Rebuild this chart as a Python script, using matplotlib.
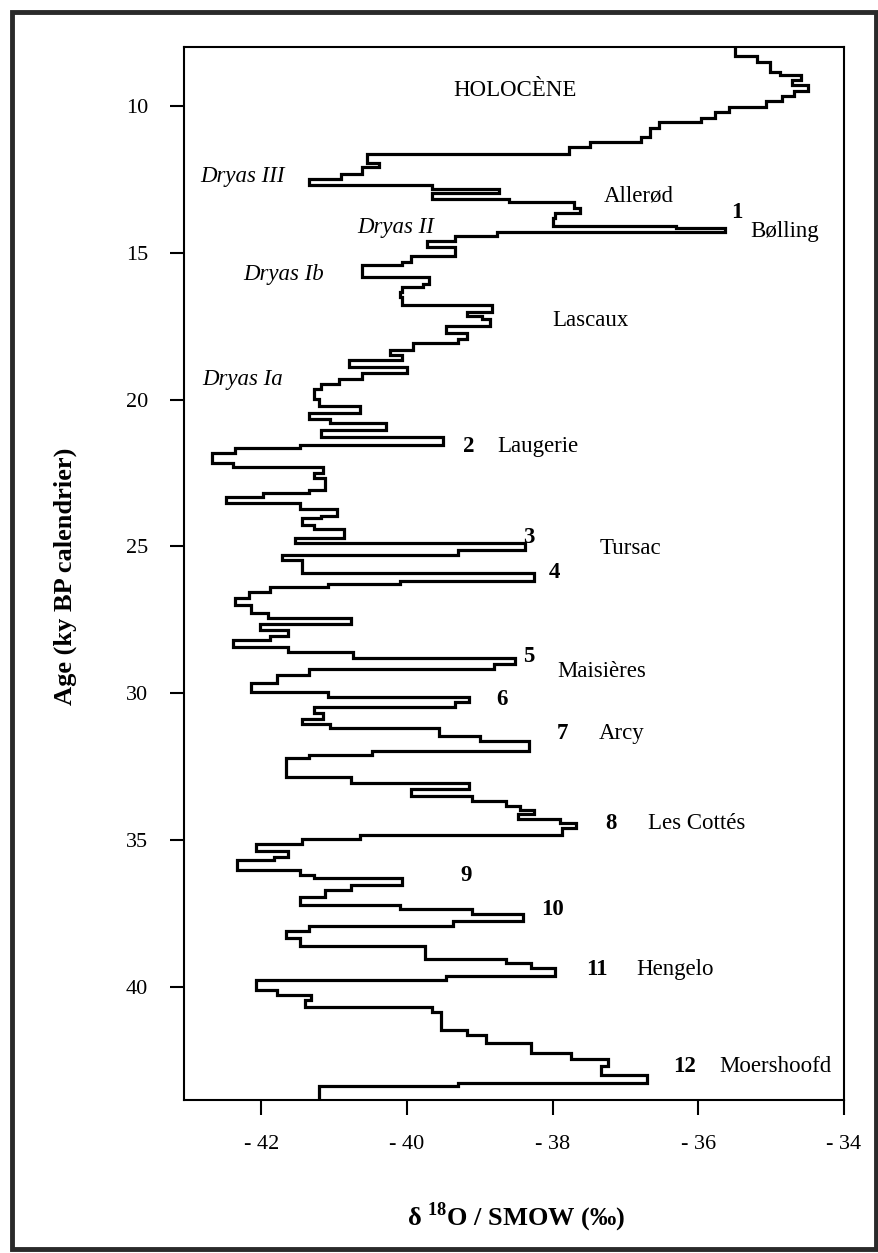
import matplotlib
matplotlib.use("Agg")
import matplotlib.pyplot as plt
from matplotlib.patches import Rectangle

plt.rcParams['font.family'] = ['Liberation Serif', 'DejaVu Serif']
plt.rcParams['mathtext.fontset'] = 'custom'
plt.rcParams['mathtext.rm'] = 'Liberation Serif'
plt.rcParams['mathtext.bf'] = 'Liberation Serif:bold'

# ------------------- DATA ------------------- #
# age boundaries (ky BP) and the d18O value held between two boundaries
age_edges = [8.0, 8.30, 8.49, 8.83, 8.94, 9.10, 9.28, 9.48, 9.66, 9.82,
             10.02, 10.22, 10.40, 10.55, 10.76, 11.04, 11.21, 11.39, 11.64, 11.93,
             12.07, 12.31, 12.48, 12.70, 12.84, 12.95, 13.15, 13.27, 13.49, 13.66,
             13.83, 14.08, 14.17, 14.30, 14.42, 14.60, 14.80, 15.11, 15.30, 15.43,
             15.81, 16.05, 16.15, 16.32, 16.50, 16.78, 17.00, 17.15, 17.27, 17.49,
             17.74, 17.93, 18.08, 18.31, 18.48, 18.65, 18.88, 19.10, 19.30, 19.45,
             19.62, 19.99, 20.20, 20.46, 20.67, 20.80, 21.02, 21.26, 21.54, 21.65,
             21.82, 22.17, 22.28, 22.50, 22.68, 23.07, 23.19, 23.30, 23.53, 23.73,
             23.96, 24.04, 24.27, 24.42, 24.72, 24.89, 25.12, 25.29, 25.46, 25.89,
             26.16, 26.27, 26.38, 26.56, 26.76, 26.99, 27.27, 27.44, 27.64, 27.84,
             28.05, 28.18, 28.41, 28.58, 28.80, 29.00, 29.18, 29.37, 29.65, 29.94,
             30.11, 30.31, 30.47, 30.68, 30.87, 31.04, 31.19, 31.45, 31.64, 31.95,
             32.09, 32.20, 32.86, 33.06, 33.27, 33.50, 33.67, 33.85, 33.97, 34.11,
             34.27, 34.40, 34.60, 34.82, 34.97, 35.13, 35.36, 35.57, 35.68, 36.01,
             36.18, 36.30, 36.54, 36.69, 36.92, 37.20, 37.35, 37.51, 37.77, 37.92,
             38.11, 38.33, 38.62, 39.05, 39.19, 39.36, 39.63, 39.75, 40.10, 40.27,
             40.44, 40.67, 40.84, 41.46, 41.62, 41.91, 42.25, 42.45, 42.70, 42.99,
             43.28, 43.39, 44.0]

d18o = [-35.49, -35.20, -35.01, -34.88, -34.59, -34.72, -34.50, -34.69, -34.85, -35.07,
        -35.58, -35.77, -35.96, -36.54, -36.66, -36.79, -37.49, -37.78, -40.55, -40.39,
        -40.61, -40.90, -41.34, -39.65, -38.73, -39.65, -38.60, -37.71, -37.62, -37.97,
        -38.00, -36.31, -35.64, -38.76, -39.34, -39.72, -39.34, -39.94, -40.07, -40.61,
        -39.69, -39.78, -40.07, -40.10, -40.07, -38.83, -39.18, -38.97, -38.86, -39.46,
        -39.18, -39.30, -39.91, -40.23, -40.07, -40.80, -40.00, -40.61, -40.93, -41.18,
        -41.28, -41.21, -40.64, -41.34, -41.06, -40.29, -41.18, -39.50, -41.47, -42.36,
        -42.68, -42.39, -41.15, -41.28, -41.12, -41.34, -41.98, -42.49, -41.47, -40.96,
        -41.18, -41.44, -41.28, -40.86, -41.53, -38.38, -39.30, -41.72, -41.44, -38.25,
        -40.10, -41.09, -41.88, -42.17, -42.36, -42.14, -41.91, -40.77, -42.01, -41.63,
        -41.88, -42.39, -41.63, -40.74, -38.51, -38.80, -41.34, -41.79, -42.14, -41.09,
        -39.15, -39.34, -41.28, -41.15, -41.44, -41.06, -39.56, -38.99, -38.32, -40.48,
        -41.34, -41.66, -40.77, -39.15, -39.94, -39.11, -38.64, -38.45, -38.25, -38.48,
        -37.90, -37.68, -37.87, -40.64, -41.44, -42.07, -41.63, -41.82, -42.33, -41.47,
        -41.28, -40.07, -40.77, -41.12, -41.47, -40.10, -39.11, -38.41, -39.37, -41.34,
        -41.66, -41.47, -39.75, -38.64, -38.29, -37.97, -39.46, -42.07, -41.79, -41.31,
        -41.40, -39.65, -39.53, -39.18, -38.92, -38.29, -37.75, -37.24, -37.33, -36.71,
        -39.30, -41.21]

x_ticks = [-42, -40, -38, -36, -34]
x_tick_labels = ['- 42', '- 40', '- 38', '- 36', '- 34']
y_ticks = [10, 15, 20, 25, 30, 35, 40]

# period names
period_names = ["HOLOCÈNE", "Allerød", "Bølling", "Lascaux", "Laugerie", "Tursac",
                "Maisières", "Arcy", "Les Cottés", "Hengelo", "Moershoofd"]
period_x = [-38.51, -36.82, -35.28, -37.48, -38.76, -37.36, -37.32, -37.36, -36.69, -36.85, -35.71]
period_age = [9.46, 13.06, 14.28, 17.31, 21.60, 25.06, 29.26, 31.38, 34.45, 39.42, 42.71]
period_ha = ['center', 'center', 'left', 'center', 'left', 'left', 'center', 'left', 'left', 'left', 'left']

dryas_names = ["Dryas III", "Dryas II", "Dryas Ib", "Dryas Ia"]
dryas_x = [-42.26, -40.16, -41.69, -42.26]
dryas_age = [12.41, 14.13, 15.75, 19.33]

event_numbers = ["1", "2", "3", "4", "5", "6", "7", "8", "9", "10", "11", "12"]
event_x = [-35.47, -39.15, -38.32, -37.97, -38.33, -38.70, -37.87, -37.20, -39.19, -38.00, -37.39, -36.19]
event_age = [13.64, 21.60, 24.69, 25.89, 28.75, 30.20, 31.38, 34.45, 36.22, 37.37, 39.42, 42.71]

# ------------------- FIGURE ------------------- #
W, H = 879, 1253
fig = plt.figure(figsize=(W / 100, H / 100), dpi=100)
fig.patch.set_facecolor('white')

ax = fig.add_axes([184 / W, 1 - 1100 / H, (844 - 184) / W, (1100 - 46.7) / H])
ax.stairs(d18o, age_edges, orientation='horizontal', baseline=None,
          color='black', linewidth=2.3)

ax.set_xlim(-43.06, -34.0)
ax.set_ylim(43.85, 7.98)

ax.set_xticks(x_ticks)
ax.set_xticklabels(x_tick_labels)
ax.set_yticks(y_ticks)
ax.tick_params(axis='x', direction='out', length=11, width=1.5, pad=14, labelsize=16)
ax.tick_params(axis='y', direction='out', length=10, width=1.5, pad=16, labelsize=16)
for side in ['left', 'right', 'top', 'bottom']:
    ax.spines[side].set_linewidth(1.5)

# labels on the chart
for name, x, a, ha in zip(period_names, period_x, period_age, period_ha):
    ax.text(x, a, name, ha=ha, va='center', fontsize=16.5)
for name, x, a in zip(dryas_names, dryas_x, dryas_age):
    ax.text(x, a, name, ha='center', va='center', fontsize=16.5, style='italic')
for num, x, a in zip(event_numbers, event_x, event_age):
    ax.text(x, a, num, ha='center', va='center', fontsize=16.5, fontweight='bold')

# axis titles
fig.text(516 / W, 1 - 1217 / H, r"δ $^{\mathbf{18}}$O / SMOW (‰)", ha='center', va='center',
         fontsize=19, fontweight='bold')
fig.text(65 / W, 1 - 576 / H, "Age (ky BP calendrier)", ha='center', va='center',
         rotation=90, fontsize=19, fontweight='bold')

# scanned page frame
fig.patches.append(Rectangle((12 / W, 4 / H), (876 - 12) / W, (1249 - 12) / H,
                             transform=fig.transFigure, fill=False,
                             edgecolor='#2a2a2a', linewidth=3.5))

fig.savefig("out.png", dpi=100)
